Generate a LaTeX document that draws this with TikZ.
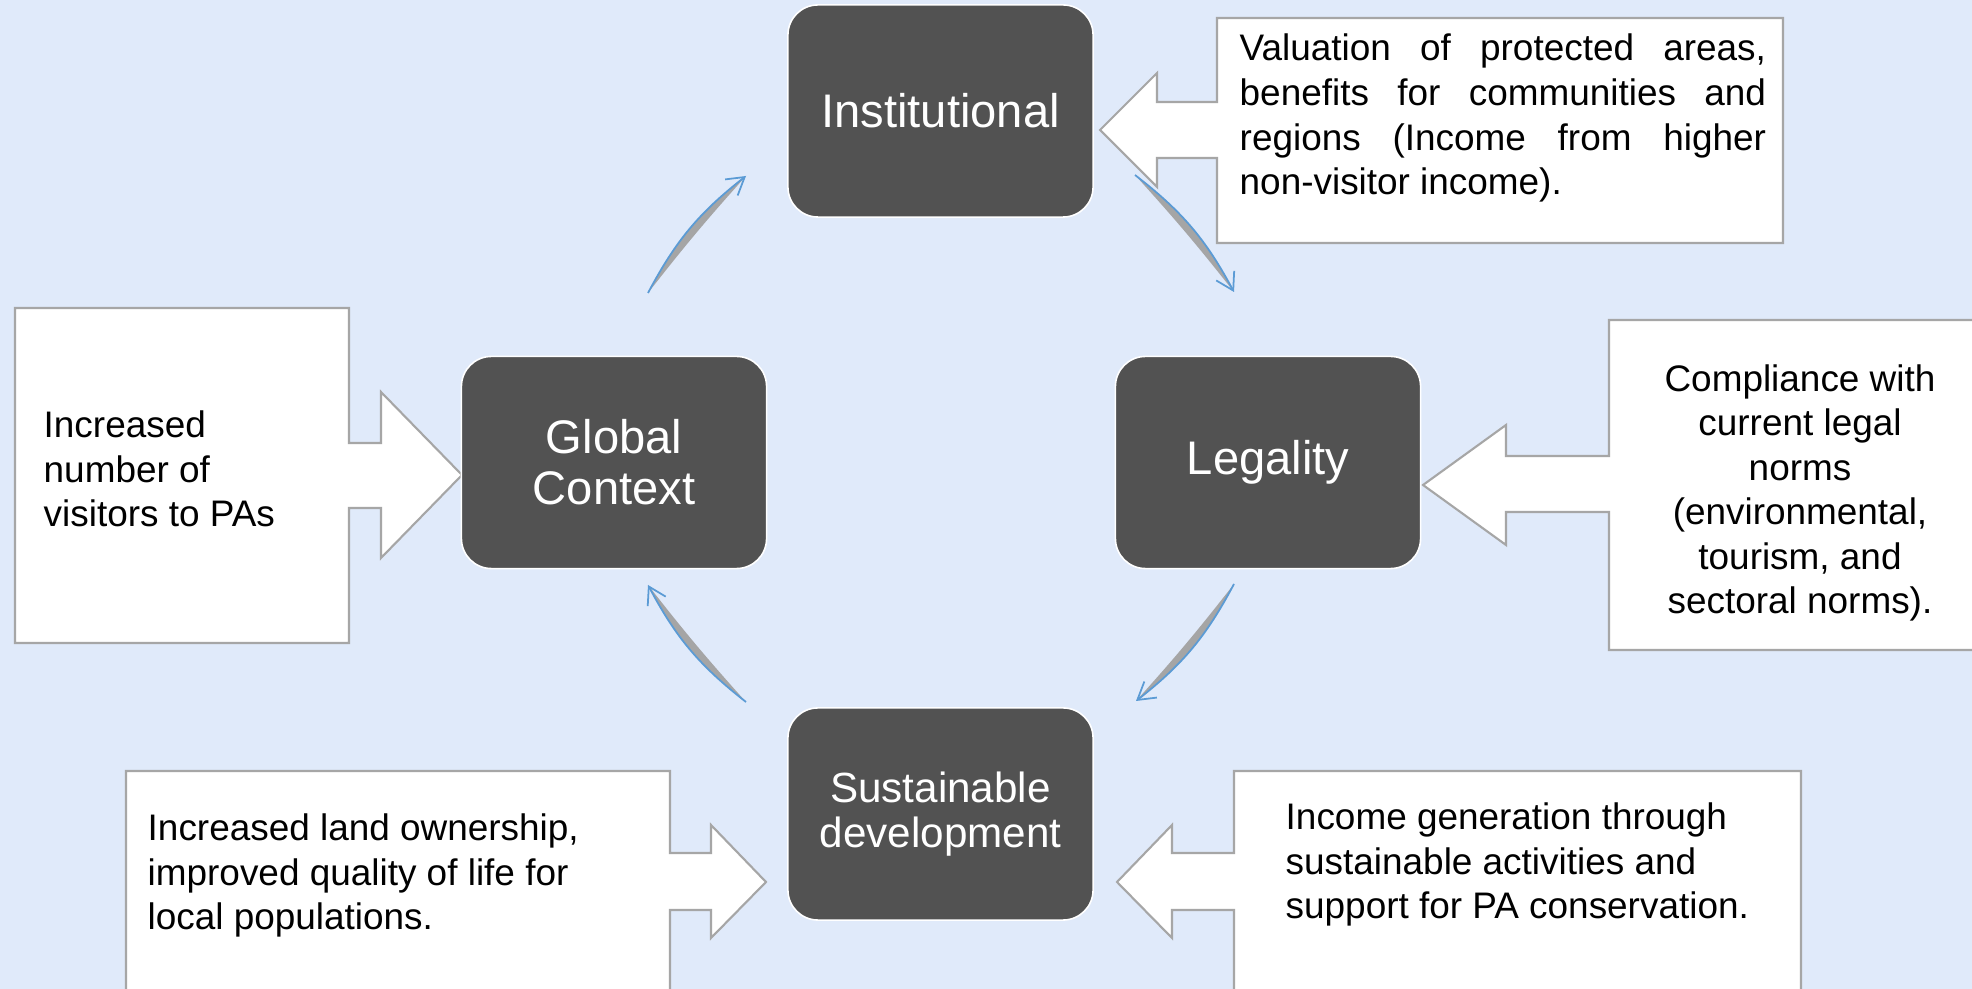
\documentclass[tikz,border=0pt]{standalone}
\usepackage{fontspec}
\setmainfont{Liberation Sans}
\usepackage{xcolor}
\definecolor{bgblue}{HTML}{E0EAFA}
\definecolor{stagegray}{HTML}{525252}
\definecolor{outlinegray}{HTML}{A6A6A6}
\definecolor{flowblue}{HTML}{5B9BD5}
\definecolor{crescent}{HTML}{A5A5A5}
\usetikzlibrary{arrows.meta}
\tikzset{>={Straight Barb[length=4.8pt,width=5.8pt]}}
\tikzset{
  stage/.style={draw=white, line width=0.45pt, fill=stagegray, rounded corners=0.3cm,
    minimum width=3.05cm, minimum height=2.12cm, inner sep=0pt, text=white,
    align=center, font=\fontsize{13.4}{14.5}\selectfont},
  callout/.style={draw=outlinegray, line width=0.6pt, fill=white},
  note/.style={inner sep=0pt, font=\fontsize{10.5}{12.66}\selectfont},
  loopfill/.style={fill=crescent},
  loopline/.style={draw=flowblue, line width=0.5pt, ->},
}

\begin{document}
\begin{tikzpicture}[x=0.01cm,y=0.01cm]
\path[use as bounding box, fill=bgblue] (0,0) rectangle (1972,-989);
\clip (0,0) rectangle (1972,-989);

% callout shapes
\draw[callout] (1217,-18) -- (1783,-18) -- (1783,-243) -- (1217,-243) -- (1217,-158)
  -- (1157,-158) -- (1157,-187) -- (1100,-130) -- (1157,-73) -- (1157,-102) -- (1217,-102) -- cycle;
\draw[callout] (1609,-320) -- (2000,-320) -- (2000,-650) -- (1609,-650) -- (1609,-512)
  -- (1506,-512) -- (1506,-545) -- (1423,-485) -- (1506,-425) -- (1506,-456) -- (1609,-456) -- cycle;
\draw[callout] (15,-308) -- (349,-308) -- (349,-443) -- (381,-443) -- (381,-392) -- (462,-475)
  -- (381,-558) -- (381,-508) -- (349,-508) -- (349,-643) -- (15,-643) -- cycle;
\draw[callout] (126,-771) -- (670,-771) -- (670,-853) -- (711,-853) -- (711,-825) -- (766,-882)
  -- (711,-938) -- (711,-910) -- (670,-910) -- (670,-1000) -- (126,-1000) -- cycle;
\draw[callout] (1234,-771) -- (1801,-771) -- (1801,-1000) -- (1234,-1000) -- (1234,-910)
  -- (1172,-910) -- (1172,-938) -- (1117,-882) -- (1172,-825) -- (1172,-853) -- (1234,-853) -- cycle;

% stages
\node[stage] (inst) at (940.5,-111) {Institutional};
\node[stage] (glob) at (614,-462.5) {Global\\Context};
\node[stage] (legal) at (1268,-462.5) {Legality};
\node[stage, font=\fontsize{12}{12.9}\selectfont] (sust) at (940.5,-814) {Sustainable\\development};

% notes (base = last line)
\node[note, anchor=base west, text width=5.26cm, align=justify] (instnote) at (1239,-61)
  {Valuation of protected areas,\linebreak benefits for communities and\linebreak regions (Income from higher\linebreak non-visitor income).};
\node[note, anchor=base, align=center] (legalnote) at (1800,-614)
  {Compliance with\\current legal\\norms\\(environmental,\\tourism, and\\sectoral norms).};
\node[note, anchor=base west, align=left] (globnote) at (43,-527)
  {Increased\\number of\\visitors to PAs};
\node[note, anchor=base west, align=left] (sustnoteL) at (147,-930)
  {Increased land ownership,\\improved quality of life for\\local populations.};
\node[note, anchor=base west, align=left] (sustnoteR) at (1285,-919)
  {Income generation through\\sustainable activities and\\support for PA conservation.};

% cycle arrows
\coordinate (a1s) at (648,-293);
\coordinate (a1e) at (746,-176);
\coordinate (a2s) at (1135,-175);
\coordinate (a2e) at (1234,-292);
\coordinate (a3s) at (1234,-584);
\coordinate (a3e) at (1136,-701);
\coordinate (a4s) at (746,-702);
\coordinate (a4e) at (648,-585);

\fill[loopfill] (a1s) to[bend left=12] (a1e) to[bend right=2] (a1s);
\draw[loopline] (a1s) to[bend left=12] (a1e);
\fill[loopfill] (a2s) to[bend left=12] (a2e) to[bend right=2] (a2s);
\draw[loopline] (a2s) to[bend left=12] (a2e);
\fill[loopfill] (a3s) to[bend left=12] (a3e) to[bend right=2] (a3s);
\draw[loopline] (a3s) to[bend left=12] (a3e);
\fill[loopfill] (a4s) to[bend left=12] (a4e) to[bend right=2] (a4s);
\draw[loopline] (a4s) to[bend left=12] (a4e);
\end{tikzpicture}
\end{document}
